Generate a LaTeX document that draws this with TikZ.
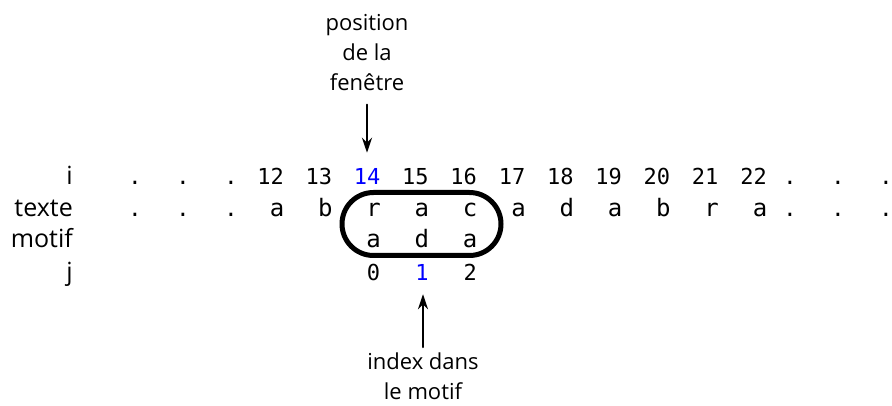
\documentclass[tikz,border=0pt]{standalone}
\usepackage{fontspec}
\setmainfont{Open Sans}
\newfontfamily\monofont{DejaVu Sans Mono}
\usetikzlibrary{arrows.meta,positioning}
\tikzset{
  mono/.style={inner sep=0,anchor=base,font=\monofont\fontsize{22}{26}\selectfont},
  lettre/.style={mono,font=\monofont\fontsize{24}{28}\selectfont},
  lab/.style={inner sep=0,anchor=base east,font=\fontsize{25}{30}\selectfont},
  note/.style={inner sep=0,anchor=north,align=center,font=\fontsize{22}{30}\selectfont},
  fleche/.style={-{Stealth[length=15pt,width=10pt]},line width=2.5pt}
}
\begin{document}
\begin{tikzpicture}[x=1pt,y=-1pt,line join=round,line cap=round]
\useasboundingbox (0,0) rectangle (892,406);
% row labels
\foreach \n/\t/\y in {li/i/185,lt/texte/217,lm/motif/248,lj/j/280}{\node[lab] (\n) at (73,\y) {\t};}
% dots
\foreach \x [count=\c] in {135,183,231,790,838,886}{\node[mono] (pi\c) at (\x,185) {.}; \node[mono] (pt\c) at (\x,217) {.};}
% indices i and text
\foreach \k in {12,...,22}{\node[mono] (n\k) at ({270.5+48.3*(\k-12)},185) {\ifnum\k=14 \color{blue}\fi\k};}
\foreach \c [count=\k from 0] in {a,b,r,a,c,a,d,a,b,r,a}{\node[lettre] (t\k) at ({277+48.3*\k},217) {\c};}
% pattern and j
\foreach \c [count=\k from 2] in {a,d,a}{\node[lettre] (m\k) at ({277+48.3*\k},248) {\c};}
\foreach \c [count=\k from 2] in {0,1,2}{\node[mono] (j\c) at ({277+48.3*\k},280) {\ifnum\c=1 \color{blue}\fi\c};}
% window
\draw[line width=5pt,rounded corners=31.5pt] (342,192.5) rectangle (501,255.5);
% notes
\node[note] (pos) at (367,14) {position\\de la\\fenêtre};
\node[note] (idx) at (423,353) {index dans\\le motif};
\draw[fleche,shorten <=14pt,shorten >=16pt] (pos) -- (pos |- n14.north);
\draw[fleche,shorten <=6pt,shorten >=14pt] (idx) -- (idx |- j1.south);
\end{tikzpicture}
\end{document}
